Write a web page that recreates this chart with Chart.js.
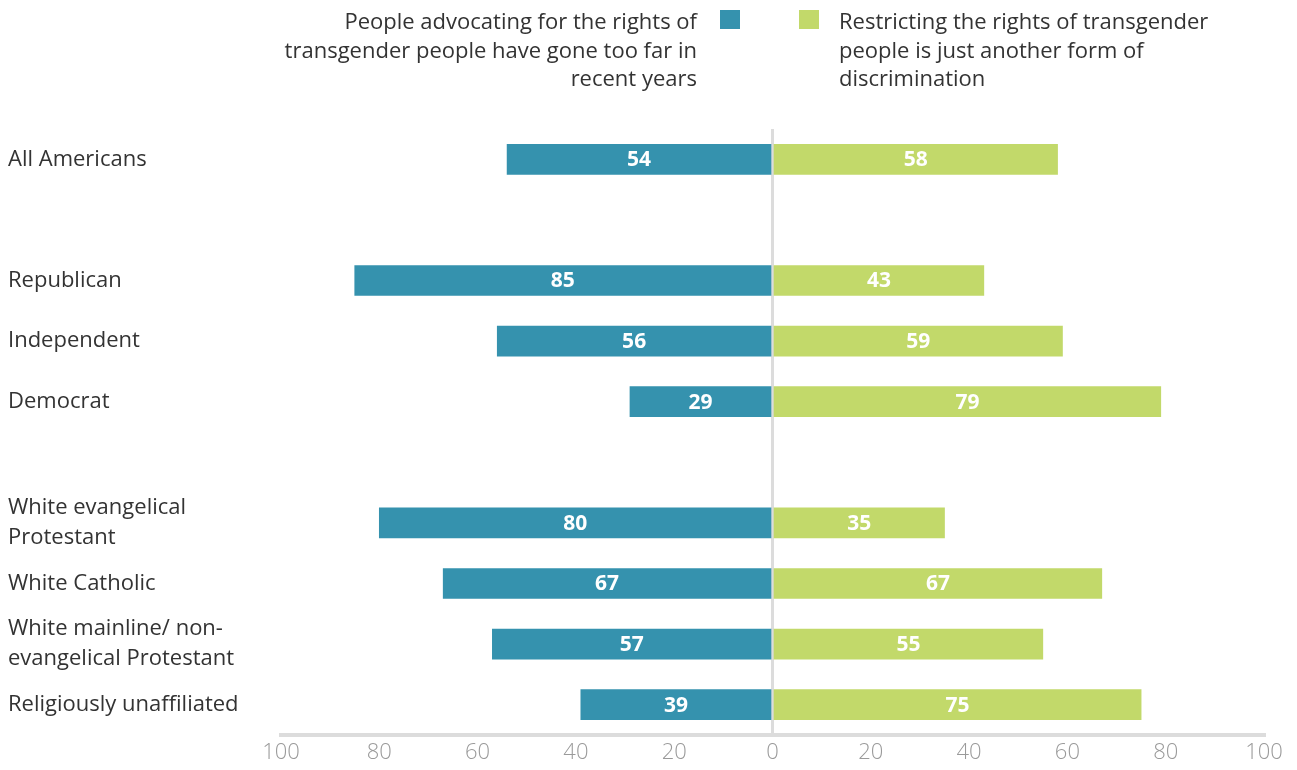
<!DOCTYPE html>
<html>
<head>
<meta charset="utf-8">
<script src="https://cdn.jsdelivr.net/npm/chart.js@4/dist/chart.umd.min.js"></script>
<style>
  html, body { margin: 0; padding: 0; background: #fff; }
  #wrap { position: relative; width: 1297px; height: 770px; font-family: "Open Sans", sans-serif; color: #333; }
  #chart { position: absolute; left: 0; top: 0; }
  .legend-text { position: absolute; font-size: 22px; line-height: 28.5px; top: 6px; }
  #legend-left { right: 600px; text-align: right; width: 480px; }
  #legend-right { left: 839px; width: 440px; }
  .swatch { position: absolute; top: 10px; width: 20px; height: 19px; }
</style>
</head>
<body>
<div id="wrap">
  <canvas id="chart" width="1297" height="770"></canvas>
  <div id="legend-left" class="legend-text"></div>
  <div id="swatch-left" class="swatch" style="left:720px"></div>
  <div id="swatch-right" class="swatch" style="left:799px"></div>
  <div id="legend-right" class="legend-text"></div>
</div>
<script>
// empty strings leave a blank row between groups
const groups = [
  'All Americans',
  '',
  'Republican',
  'Independent',
  'Democrat',
  '',
  ['White evangelical', 'Protestant'],
  'White Catholic',
  ['White mainline/ non-', 'evangelical Protestant'],
  'Religiously unaffiliated'
];
const goneTooFar = [54, null, 85, 56, 29, null, 80, 67, 57, 39];
const discrimination = [58, null, 43, 59, 79, null, 35, 67, 55, 75];
const seriesNames = [
  'People advocating for the rights of<br>transgender people have gone too far in<br>recent years',
  'Restricting the rights of transgender<br>people is just another form of<br>discrimination'
];
const xTicks = [-100, -80, -60, -40, -20, 0, 20, 40, 60, 80, 100];

const teal = '#3592ae';
const green = '#c2d96a';

document.getElementById('legend-left').innerHTML = seriesNames[0];
document.getElementById('legend-right').innerHTML = seriesNames[1];
document.getElementById('swatch-left').style.background = teal;
document.getElementById('swatch-right').style.background = green;

// white value labels in the middle of each bar
const barValues = {
  id: 'barValues',
  afterDatasetsDraw(chart) {
    const ctx = chart.ctx;
    ctx.save();
    ctx.fillStyle = '#fff';
    ctx.font = '700 21px "Open Sans"';
    ctx.textAlign = 'center';
    ctx.textBaseline = 'middle';
    chart.data.datasets.forEach((ds, i) => {
      chart.getDatasetMeta(i).data.forEach((bar, j) => {
        const v = ds.data[j];
        if (v === null) return;
        const c = bar.getCenterPoint();
        ctx.fillText(Math.abs(v), c.x, c.y + 1);
      });
    });
    ctx.restore();
  }
};

new Chart(document.getElementById('chart'), {
  type: 'bar',
  data: {
    labels: groups,
    datasets: [
      { label: 'gone too far', data: goneTooFar.map(v => v === null ? null : -v), backgroundColor: teal, barThickness: 30 },
      { label: 'discrimination', data: discrimination, backgroundColor: green, barThickness: 30 }
    ]
  },
  options: {
    indexAxis: 'y',
    responsive: false,
    animation: false,
    layout: { padding: { left: 8, right: 33, top: 129, bottom: 0 } },
    plugins: { legend: { display: false }, tooltip: { enabled: false } },
    scales: {
      x: {
        stacked: true,
        min: -100,
        max: 100,
        z: 1,
        afterBuildTicks: scale => { scale.ticks = xTicks.map(v => ({ value: v })); },
        afterFit: scale => { scale.height = 35; },
        ticks: {
          padding: 5,
          color: '#9a9a9a',
          font: { family: 'Open Sans', size: 22, weight: '300' },
          callback: v => Math.abs(v)
        },
        grid: {
          drawTicks: false,
          lineWidth: 3,
          color: ctx => ctx.tick && ctx.tick.value === 0 ? '#dcdcdc' : 'rgba(0,0,0,0)'
        },
        border: { color: '#dcdcdc', width: 4 }
      },
      y: {
        stacked: true,
        afterFit: scale => { scale.width = 273; },
        ticks: {
          autoSkip: false,
          crossAlign: 'far',
          color: '#333',
          font: { family: 'Open Sans', size: 22, lineHeight: 1.36 }
        },
        grid: { display: false },
        border: { display: false }
      }
    }
  },
  plugins: [barValues]
});
</script>
</body>
</html>
